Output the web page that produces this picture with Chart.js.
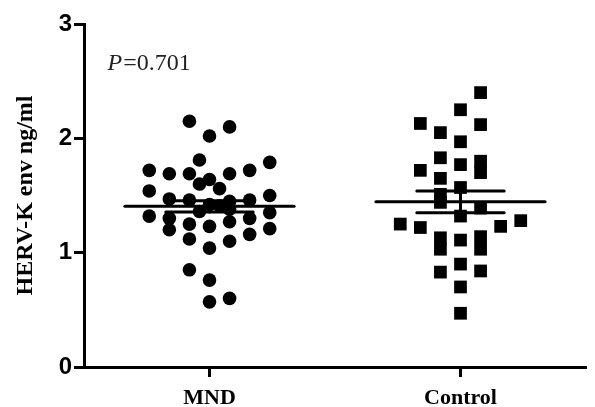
<!DOCTYPE html>
<html>
<head>
<meta charset="utf-8">
<script src="https://cdn.jsdelivr.net/npm/chart.js@4"></script>
<style>
  html, body { margin: 0; padding: 0; background: #fff; }
  #wrap { width: 595px; height: 407px; }
</style>
</head>
<body>
<div id="wrap"><canvas id="chart" width="595" height="407"></canvas></div>
<script>
// groups
const categories = ['MND', 'Control'];
const yTicks = [0, 1, 2, 3];

// MND (circles): horizontal offset within column, value in ng/ml
const mndOffsets = [-0.08, 0.08, 0, -0.04, 0.24, -0.24, -0.16, -0.08, 0.08, 0.16,
  -0.04, 0, 0.04, -0.24, 0.24, -0.16, -0.08, 0.16, 0, 0.08,
  -0.24, -0.16, -0.16, -0.08, -0.04, 0, 0.08, 0.16, 0.24, 0.24,
  0.16, -0.08, 0.08, 0, -0.08, 0, 0, 0.08, 0.04, 0.08];
const mndValues = [2.15, 2.10, 2.02, 1.81, 1.79, 1.72, 1.69, 1.69, 1.69, 1.72,
  1.60, 1.64, 1.56, 1.54, 1.50, 1.47, 1.46, 1.46, 1.42, 1.45,
  1.32, 1.30, 1.20, 1.25, 1.36, 1.23, 1.27, 1.30, 1.35, 1.21,
  1.16, 1.12, 1.10, 1.04, 0.85, 0.76, 0.57, 0.60, 1.41, 1.38];

// Control (squares)
const controlOffsets = [0.08, 0, -0.16, 0.08, -0.08, 0, -0.08, 0, 0.08, 0.08,
  -0.16, -0.08, 0, -0.08, -0.08, 0, 0.08, -0.24, -0.16, 0.16,
  0.24, -0.08, -0.08, 0, 0.08, 0.08, 0, -0.08, 0.08, 0, 0];
const controlValues = [2.40, 2.25, 2.13, 2.12, 2.05, 1.97, 1.83, 1.77, 1.80, 1.70,
  1.72, 1.65, 1.57, 1.51, 1.44, 1.32, 1.39, 1.25, 1.22, 1.23,
  1.28, 1.13, 1.03, 1.11, 1.14, 1.03, 0.90, 0.83, 0.84, 0.70, 0.47];

// mean +/- SEM
const meanValues = [1.405, 1.445];
const semValues = [0.05, 0.095];
const meanHalf = 0.337, semHalf = 0.174;

const pText = ['P', '=0.701'];
const pPos = { x: 0.594, y: 2.596 };

const toPts = (offs, vals, c) => vals.map((v, i) => ({ x: c + offs[i], y: v }));
const seg = (x1, y1, x2, y2) => ({
  type: 'line', data: [{ x: x1, y: y1 }, { x: x2, y: y2 }],
  borderColor: '#000', borderWidth: 3, pointRadius: 0, borderCapStyle: 'round',
  showLine: true, fill: false
});

const lineSets = [];
meanValues.forEach((m, i) => {
  const c = i + 1, s = semValues[i];
  lineSets.push(seg(c - meanHalf, m, c + meanHalf, m));
  lineSets.push(seg(c - semHalf, m + s, c + semHalf, m + s));
  lineSets.push(seg(c - semHalf, m - s, c + semHalf, m - s));
  lineSets.push(seg(c, m - s, c, m + s));
});

const pLabel = {
  id: 'pLabel',
  afterDatasetsDraw(chart) {
    const { ctx, scales: { x, y } } = chart;
    const px = x.getPixelForValue(pPos.x), py = y.getPixelForValue(pPos.y);
    ctx.save();
    ctx.fillStyle = '#222';
    ctx.textBaseline = 'alphabetic';
    ctx.font = 'italic 24px "Liberation Serif"';
    ctx.fillText(pText[0], px, py);
    const w = ctx.measureText(pText[0]).width;
    ctx.font = '24px "Liberation Serif"';
    ctx.fillText(pText[1], px + w + 1, py);
    ctx.restore();
  }
};

const axisGrid = { display: true, drawOnChartArea: false, drawTicks: true, tickLength: 10, tickWidth: 3, tickColor: '#000' };

new Chart(document.getElementById('chart'), {
  type: 'scatter',
  data: {
    datasets: [
      { data: toPts(mndOffsets, mndValues, 1), pointStyle: 'circle', pointRadius: 6.8,
        backgroundColor: '#000', borderColor: '#000', borderWidth: 0 },
      { data: toPts(controlOffsets, controlValues, 2), pointStyle: 'rect', pointRadius: 9,
        backgroundColor: '#000', borderColor: '#000', borderWidth: 0 },
      ...lineSets
    ]
  },
  options: {
    responsive: false, animation: false,
    layout: { padding: { top: 24, right: 0, left: 0, bottom: 0 } },
    plugins: { legend: { display: false }, tooltip: { enabled: false } },
    scales: {
      x: {
        type: 'linear', min: 0.5, max: 2.5,
        afterBuildTicks: s => { s.ticks = categories.map((c, i) => ({ value: i + 1 })); },
        afterFit: s => { s.height = 40; },
        ticks: { color: '#000', padding: 8, font: { family: 'Liberation Serif', weight: 'bold', size: 22 },
          callback: (v, i) => categories[i] },
        grid: axisGrid,
        border: { display: true, color: '#000', width: 3 }
      },
      y: {
        min: 0, max: 3,
        afterBuildTicks: s => { s.ticks = yTicks.map(v => ({ value: v })); },
        afterFit: s => { s.width = 84; },
        ticks: { color: '#000', padding: 2, font: { family: 'Liberation Sans', weight: 'bold', size: 24 } },
        grid: axisGrid,
        border: { display: true, color: '#000', width: 3 },
        title: { display: true, text: 'HERV-K env ng/ml', color: '#000', padding: { top: 11 },
          font: { family: 'Liberation Serif', weight: 'bold', size: 24 } }
      }
    }
  },
  plugins: [pLabel]
});
</script>
</body>
</html>
